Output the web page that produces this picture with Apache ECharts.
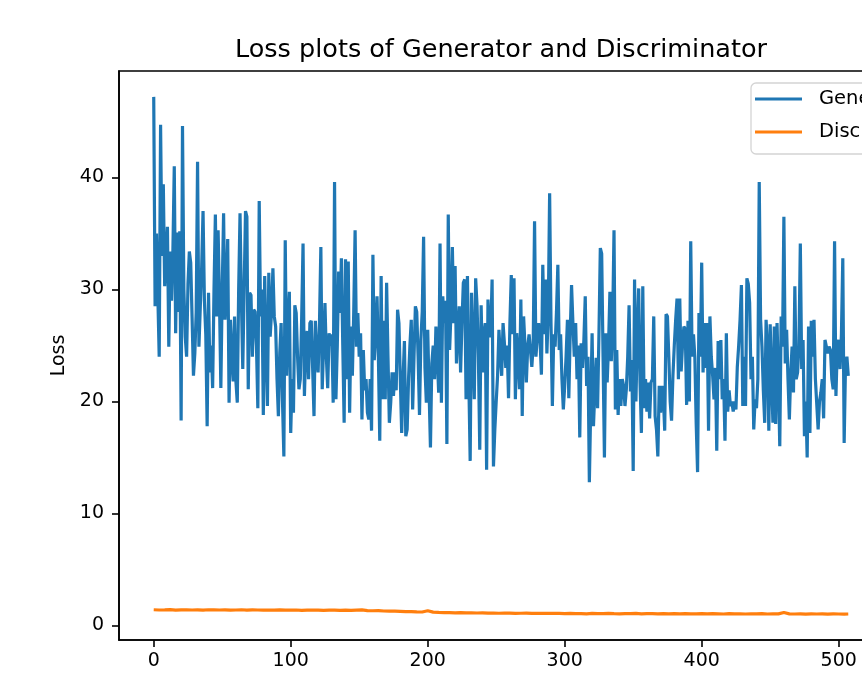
<!DOCTYPE html>
<html>
<head>
<meta charset="utf-8">
<script src="https://cdn.jsdelivr.net/npm/echarts@6/dist/echarts.min.js"></script>
<style>
  html, body { margin: 0; padding: 0; overflow: hidden; background: #fff; }
  #chart { width: 900px; height: 681px; }
</style>
</head>
<body>
<div id="chart"></div>
<script>
// loss per step
const genLoss = [
  47.2, 28.5, 35.0, 29.5, 24.0, 44.7, 33.0, 39.4, 30.3, 33.0,
  35.6, 24.9, 33.4, 29.0, 33.5, 41.0, 26.1, 35.1, 28.0, 35.2,
  18.3, 44.6, 30.0, 25.8, 24.0, 30.5, 33.4, 32.4, 27.5, 22.3,
  24.3, 28.0, 41.4, 24.9, 28.5, 32.0, 37.0, 29.0, 26.0, 17.8,
  29.7, 22.6, 25.0, 21.2, 30.0, 36.7, 27.6, 35.3, 29.0, 21.2,
  30.0, 36.8, 27.3, 30.0, 34.5, 19.9, 27.3, 24.0, 21.8, 27.6,
  21.8, 19.9, 30.0, 36.8, 29.0, 22.9, 30.0, 37.0, 36.5, 21.1,
  29.7, 29.5, 24.0, 28.2, 28.0, 25.0, 19.4, 37.9, 27.6, 30.0,
  18.8, 31.2, 25.0, 19.6, 31.5, 25.8, 28.0, 31.9, 27.6, 26.7,
  22.0, 18.7, 24.3, 27.0, 20.0, 15.1, 34.4, 22.3, 27.0, 29.8,
  17.2, 22.0, 19.0, 28.6, 27.9, 24.0, 21.1, 22.0, 27.5, 34.1,
  20.5, 25.0, 26.3, 22.0, 27.0, 27.2, 23.0, 18.7, 27.2, 24.0,
  22.6, 27.0, 33.8, 21.1, 25.0, 28.8, 24.0, 21.2, 26.1, 25.0,
  26.0, 19.9, 39.6, 20.2, 25.0, 31.6, 27.9, 32.8, 25.0, 18.1,
  32.7, 22.0, 32.5, 19.0, 26.7, 22.3, 28.0, 35.3, 24.9, 27.9,
  24.0, 26.1, 18.4, 24.6, 21.0, 22.0, 19.0, 18.4, 22.0, 17.4,
  33.1, 23.7, 26.0, 29.4, 24.0, 16.5, 31.2, 20.2, 27.2, 20.2,
  30.6, 24.0, 18.1, 19.9, 22.6, 20.5, 22.6, 21.0, 28.2, 27.0,
  22.0, 17.2, 22.0, 25.4, 16.9, 17.5, 22.0, 25.0, 27.3, 19.3,
  24.0, 28.5, 28.0, 24.0, 18.8, 25.5, 28.0, 34.7, 23.0, 19.9,
  26.4, 21.0, 15.9, 23.4, 25.0, 22.0, 26.7, 24.0, 20.8, 34.1,
  19.9, 29.4, 27.0, 29.0, 16.2, 36.7, 24.6, 28.0, 33.8, 27.0,
  32.1, 23.4, 26.0, 28.5, 22.6, 27.0, 30.6, 30.9, 20.2, 31.2,
  22.0, 14.7, 29.7, 25.0, 20.2, 31.0, 28.6, 24.0, 15.7, 28.6,
  22.6, 26.0, 27.0, 13.9, 29.1, 25.8, 26.0, 30.9, 14.2, 17.5,
  20.0, 22.3, 26.4, 24.0, 22.3, 27.0, 25.2, 23.0, 25.0, 20.3,
  27.0, 31.3, 26.0, 31.0, 20.2, 26.1, 24.0, 21.1, 29.1, 18.7,
  27.6, 25.0, 21.7, 24.9, 26.0, 24.6, 23.1, 25.0, 36.1, 24.0,
  25.8, 27.0, 25.5, 22.4, 32.2, 26.0, 30.9, 24.3, 28.0, 38.6,
  27.0, 19.6, 26.0, 24.9, 28.0, 32.2, 24.6, 26.0, 22.0, 19.3,
  21.4, 24.0, 27.3, 20.3, 26.0, 30.4, 27.0, 24.0, 27.0, 22.0,
  25.0, 16.8, 25.2, 23.0, 25.5, 29.4, 21.4, 24.0, 12.8, 19.6,
  26.1, 17.8, 21.0, 23.9, 19.4, 26.0, 33.7, 33.2, 24.0, 15.0,
  26.1, 21.7, 25.0, 29.8, 23.6, 27.0, 35.3, 19.3, 24.6, 18.8,
  22.0, 19.6, 22.0, 21.4, 19.6, 21.1, 24.0, 28.6, 20.9, 23.7,
  13.8, 30.9, 20.0, 26.0, 30.1, 21.7, 17.2, 30.3, 19.4, 22.0,
  19.1, 21.7, 18.5, 21.7, 22.0, 27.6, 18.7, 17.5, 15.1, 21.4,
  19.0, 21.4, 20.5, 17.4, 27.8, 27.6, 24.0, 20.0, 18.3, 22.3,
  25.0, 27.3, 29.2, 22.0, 29.2, 22.7, 25.0, 26.7, 26.5, 19.7,
  27.2, 20.0, 34.3, 24.0, 26.0, 24.0, 18.0, 13.7, 27.9, 24.0,
  32.4, 22.6, 27.0, 23.0, 27.0, 17.4, 27.6, 24.0, 22.3, 20.2,
  23.0, 15.6, 25.4, 22.0, 25.5, 20.2, 22.0, 16.5, 26.1, 19.1,
  21.0, 19.6, 20.0, 19.1, 20.0, 19.3, 23.1, 25.0, 27.3, 30.4,
  19.6, 24.0, 19.6, 31.0, 30.5, 28.8, 22.0, 24.0, 17.5, 20.2,
  19.4, 22.0, 39.6, 27.3, 24.9, 21.0, 18.1, 27.3, 24.9, 17.4,
  26.9, 22.0, 18.1, 26.7, 18.0, 27.0, 22.0, 16.0, 27.6, 24.9,
  36.5, 23.4, 26.4, 22.0, 18.4, 22.6, 24.9, 20.8, 30.3, 22.0,
  22.6, 25.0, 34.1, 22.9, 25.5, 16.9, 20.0, 15.0, 26.7, 17.2,
  27.2, 24.0, 27.3, 22.0, 22.0, 17.5, 20.0, 20.8, 22.0, 18.5,
  25.5, 24.9, 24.3, 24.9, 24.6, 22.0, 21.1, 34.3, 20.5, 25.0,
  25.5, 22.9, 26.0, 32.8, 16.3, 23.4, 24.0, 22.3
]

// discriminator is almost flat, read every 4th step (last one is step 507)
const discLoss = [
  1.41, 1.39, 1.40, 1.42, 1.38, 1.40, 1.41, 1.39, 1.40, 1.38,
  1.41, 1.40, 1.39, 1.40, 1.38, 1.39, 1.41, 1.38, 1.40, 1.39,
  1.37, 1.39, 1.38, 1.40, 1.37, 1.38, 1.39, 1.36, 1.38, 1.37,
  1.38, 1.36, 1.37, 1.38, 1.35, 1.37, 1.36, 1.38, 1.40, 1.34,
  1.32, 1.33, 1.30, 1.29, 1.28, 1.27, 1.25, 1.24, 1.22, 1.21,
  1.32, 1.20, 1.17, 1.16, 1.15, 1.14, 1.15, 1.13, 1.14, 1.12,
  1.13, 1.11, 1.12, 1.10, 1.12, 1.11, 1.09, 1.10, 1.11, 1.09,
  1.10, 1.08, 1.10, 1.09, 1.08, 1.07, 1.08, 1.06, 1.07, 1.05,
  1.08, 1.06, 1.07, 1.09, 1.06, 1.05, 1.07, 1.06, 1.08, 1.05,
  1.06, 1.07, 1.05, 1.06, 1.04, 1.07, 1.05, 1.06, 1.04, 1.05,
  1.07, 1.04, 1.06, 1.05, 1.03, 1.06, 1.04, 1.05, 1.03, 1.05,
  1.04, 1.06, 1.03, 1.05, 1.04, 1.16, 1.04, 1.03, 1.05, 1.02,
  1.04, 1.03, 1.05, 1.02, 1.04, 1.03, 1.02, 1.03
]

const xTicks = [0, 100, 200, 300, 400, 500]
const yTicks = [0, 10, 20, 30, 40]

const genData = genLoss.map((v, i) => [i, v])
const discData = discLoss.map((v, i) => [Math.min(i * 4, 507), v])

const chart = echarts.init(document.getElementById('chart'))

const axisStyle = { color: '#000', width: 1.6 }

const option = {
  animation: false,
  textStyle: { fontFamily: 'DejaVu Sans' },
  title: {
    text: 'Loss plots of Generator and Discriminator',
    left: 496,
    top: 32,
    textAlign: 'center',
    textStyle: { fontSize: 25.5, fontWeight: 'normal', color: '#000', fontFamily: 'DejaVu Sans' }
  },
  legend: {
    orient: 'vertical',
    left: 751,
    top: 83,
    padding: [6, 12, 12, 4],
    icon: 'rect',
    itemWidth: 47,
    itemHeight: 3,
    itemGap: 13,
    backgroundColor: 'rgba(255,255,255,0.8)',
    borderColor: '#d4d4d4',
    borderWidth: 1.3,
    borderRadius: 5,
    textStyle: { fontSize: 19.5, color: '#000', lineHeight: 19, padding: [0, 0, 0, 12], fontFamily: 'DejaVu Sans' },
    data: ['Generator', 'Discriminator']
  },
  grid: {
    left: 119,
    right: 17,
    top: 71,
    bottom: 41,
    show: true,
    borderColor: '#000',
    borderWidth: 1.6
  },
  xAxis: {
    type: 'value',
    min: -25.35,
    max: 532.35,
    axisLine: { show: true, onZero: false, lineStyle: axisStyle },
    axisTick: { show: true, length: 7, customValues: xTicks, lineStyle: axisStyle },
    axisLabel: { customValues: xTicks, margin: 12, fontSize: 19, color: '#000' },
    splitLine: { show: false }
  },
  yAxis: {
    type: 'value',
    min: -1.29,
    max: 49.51,
    name: 'Loss',
    nameLocation: 'middle',
    nameGap: 50,
    nameTextStyle: { fontSize: 19, color: '#000' },
    axisLine: { show: true, onZero: false, lineStyle: axisStyle },
    axisTick: { show: true, length: 7, customValues: yTicks, lineStyle: axisStyle },
    axisLabel: { customValues: yTicks, margin: 15, fontSize: 19, color: '#000' },
    splitLine: { show: false }
  },
  series: [
    {
      name: 'Generator',
      type: 'line',
      data: genData,
      showSymbol: false,
      color: '#1f77b4',
      lineStyle: { width: 3.2, color: '#1f77b4' }
    },
    {
      name: 'Discriminator',
      type: 'line',
      data: discData,
      showSymbol: false,
      color: '#ff7f0e',
      lineStyle: { width: 3.2, color: '#ff7f0e' }
    }
  ]
}

chart.setOption(option)
</script>
</body>
</html>
